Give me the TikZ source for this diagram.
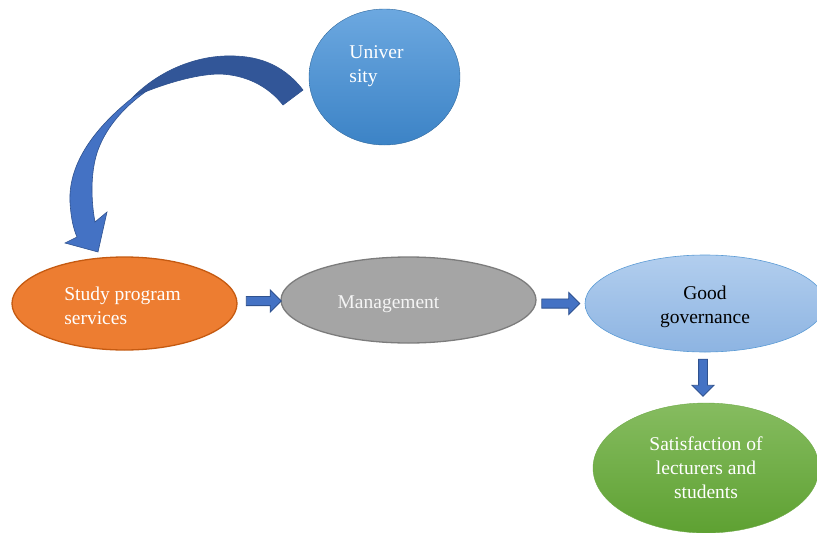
\documentclass[tikz,border=0pt]{standalone}
\usepackage{fontspec}
\setmainfont{Liberation Serif}
\usetikzlibrary{shapes.geometric,shapes.arrows,calc}
\definecolor{uniTop}{RGB}{108,168,224}
\definecolor{uniBot}{RGB}{60,131,198}
\definecolor{orangeF}{RGB}{237,125,49}
\definecolor{orangeD}{RGB}{197,90,17}
\definecolor{grayF}{RGB}{165,165,165}
\definecolor{grayD}{RGB}{124,124,124}
\definecolor{govTop}{RGB}{178,206,238}
\definecolor{govBot}{RGB}{141,180,226}
\definecolor{govD}{RGB}{91,155,213}
\definecolor{satTop}{RGB}{134,188,96}
\definecolor{satBot}{RGB}{94,161,50}
\definecolor{arrF}{RGB}{68,114,196}
\definecolor{arrD}{RGB}{47,82,143}
\definecolor{arrDark}{RGB}{50,86,152}
\tikzset{
  oval/.style={ellipse, inner sep=0pt},
  txt/.style={font=\fontsize{19.5}{24}\selectfont, inner sep=0pt},
  blockarrow/.style={single arrow, fill=arrF, draw=arrD, line width=0.8pt,
     inner sep=4.2pt, minimum width=22pt, single arrow head extend=6.5pt,
     single arrow head indent=0pt}
}
\begin{document}
\begin{tikzpicture}[x=1pt,y=-1pt]
\useasboundingbox (0,0) rectangle (817,533);
% ellipses
\node[oval, minimum width=151pt, minimum height=136pt, top color=uniTop, bottom color=uniBot, draw=uniBot!80!black, line width=0.4pt] (uni) at (384.5,77) {};
\node[oval, minimum width=225pt, minimum height=93pt, fill=orangeF, draw=orangeD, line width=1.3pt] (study) at (124.5,303.5) {};
\node[oval, minimum width=255pt, minimum height=86pt, fill=grayF, draw=grayD, line width=1.3pt] (mgmt) at (408.5,300) {};
\node[oval, minimum width=240pt, minimum height=97pt, top color=govTop, bottom color=govBot, draw=govD, line width=0.6pt] (gov) at (705,303.5) {};
\node[oval, minimum width=226pt, minimum height=130pt, top color=satTop, bottom color=satBot, draw=satBot!90!white, line width=0.4pt] (sat) at (706,468) {};
% texts
\node[txt, white, align=left] (unitxt) at ($(uni.center)+(-8,-11)$) {Univer\\sity};
\node[txt, white, align=left] (studytxt) at ($(study.center)+(-2,2)$) {Study program\\services};
\node[txt, white!92!gray] (mgmttxt) at ($(mgmt.center)+(-20,4)$) {Management};
\node[txt, black, align=center] (govtxt) at ($(gov.center)+(0,3)$) {Good\\governance};
\node[txt, white, align=center] (sattxt) at ($(sat.center)+(0,0)$) {Satisfaction of\\lecturers and\\students};
% block arrows
\node[blockarrow, minimum height=35pt] (a1) at (261.5,301) {};
\node[blockarrow, minimum height=38pt] (a2) at (558.5,303.5) {};
\node[blockarrow, minimum height=37pt, shape border rotate=270, minimum width=21pt, inner sep=4pt] (a3) at (703,375.5) {};
% curved arrow from University to Study program services
\fill[arrF, draw=arrD, line width=0.6pt]
  (140,92) .. controls (100,122) and (68,160) .. (70,202)
  .. controls (71,220) and (74,230) .. (77,237)
  -- (65,243) -- (98,252) -- (107,212) -- (95,222)
  .. controls (90,195) and (91,165) .. (100,145)
  .. controls (110,122) and (128,104) .. (148,90) -- cycle;
\fill[arrDark, draw=arrD, line width=0.6pt]
  (303,90) .. controls (282,63) and (256,55) .. (225,56)
  .. controls (195,57) and (160,70) .. (133,97)
  .. controls (160,85) and (195,74) .. (220,74)
  .. controls (246,75) and (268,86) .. (283,105) -- cycle;
\end{tikzpicture}
\end{document}
